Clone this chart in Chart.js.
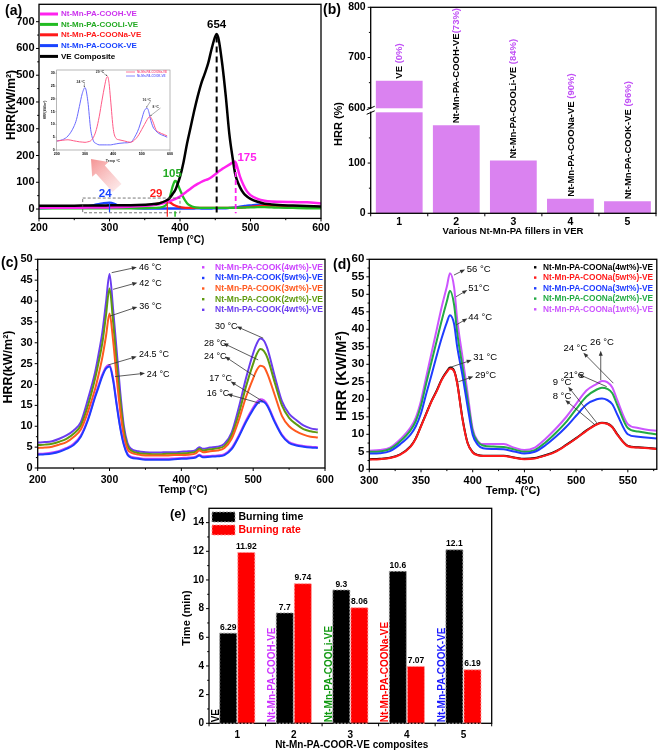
<!DOCTYPE html>
<html><head><meta charset="utf-8">
<script src="https://cdn.jsdelivr.net/npm/chart.js@4.4.1/dist/chart.umd.min.js"></script>
<style>
html,body{margin:0;padding:0;background:#fff;}
body{width:660px;height:752px;position:relative;overflow:hidden;}
canvas{position:absolute;display:block;}
</style></head><body>
<canvas id="cA" width="330" height="250" style="left:0;top:0"></canvas>
<canvas id="cB" width="340" height="250" style="left:320px;top:0"></canvas>
<canvas id="cC" width="340" height="250" style="left:0;top:250px"></canvas>
<canvas id="cD" width="330" height="250" style="left:330px;top:250px"></canvas>
<canvas id="cE" width="400" height="252" style="left:130px;top:500px"></canvas>
<canvas id="cI" width="140" height="104" style="left:38px;top:62px"></canvas>
<script>
// ================= DATA =================
// (a) HRR curves (kW/m2) vs temperature (°C)
const TEMP_A = [200,220,240,260,280,290,300,310,320,340,360,370,380,385,390,393,395,400,405,410,415,420,425,430,435,440,445,450,452,455,460,465,470,475,478,480,485,490,495,500,510,520,530,540,560,580,600];
const HRR_A_VE    = [12,12,12,13,13,13,14,14,14,15,18,21,31,40,58,70,82,120,175,245,305,365,420,468,505,545,600,645,654,632,540,420,280,185,135,115,82,60,47,38,27,20,17,15,13,11,9];
const HRR_A_COOH  = [5,5,5,5,6,6,6,7,8,10,14,18,25,29,34,37,40,47,56,66,76,86,94,101,107,112,120,130,134,141,150,158,166,174,178,168,122,90,66,52,38,31,28,27,26,25,21];
const HRR_A_COOLI = [3,3,3,3,3,3,3,3,3,3,4,5,14,40,88,105,102,72,42,22,12,7,5,4,4,4,4,4,4,4,4,4,4,4,4,4,5,5,6,6,7,7,6,5,4,3,3];
const HRR_A_COONA = [4,4,5,5,6,6,6,7,8,11,16,21,28,26,17,13,11,7,5,4,4,4,4,4,4,4,4,4,4,4,4,4,4,4,4,4,5,6,7,8,11,13,12,9,6,5,5];
const HRR_A_COOK  = [3,4,5,8,16,21,24,16,7,3,2,2,2,2,2,2,2,2,2,2,2,2,3,2,2,2,2,3,3,3,3,3,4,5,6,7,9,11,13,14,16,15,11,8,6,5,5];
const A_X_TICKS = [200,300,400,500,600];
const A_Y_TICKS = [0,100,200,300,400,500,600,700];
const A_NAMES = ['Nt-Mn-PA-COOH-VE','Nt-Mn-PA-COOLi-VE','Nt-Mn-PA-COONa-VE','Nt-Mn-PA-COOK-VE','VE Composite'];
const A_PEAK_TEXT = ['654','175','105','29','24'];

// (a) inset
const TEMP_IN = [200,220,240,260,270,280,290,300,310,320,330,340,350,360,370,375,380,385,390,400,410,420,440,460,480,490,500,510,520,525,530,540,550,560,580,590];
const INSET_COOK  = [3.5,4,5.5,9,12,17,22,24.4,19,8,3.5,2.5,2,2,2,2,2,2,2,2.2,2.4,2.6,2.8,3,6,8.5,12,15.5,16.3,15,12.5,9,7.5,6.5,5.5,5];
const INSET_COONA = [3.5,3.8,4,3.6,3.4,3.2,3.1,3,3.2,3.6,5,8,13,19.5,25.5,28,28.7,26,20,8,4.5,4,3.5,3,4.5,6,8,10,12,12.8,13,11,8,7,6,5.5];
const I_X_TICKS = [200,300,400,500,600];
const I_Y_TICKS = [0,5,10,15,20,25,30];

// (b) peak HRR of each composite
const B_CATS = ['1','2','3','4','5'];
const B_PEAK_HRR = [654,175,105,29,24];
const B_NAMES = ['VE','Nt-Mn-PA-COOH-VE','Nt-Mn-PA-COOLi-VE','Nt-Mn-PA-COONa-VE','Nt-Mn-PA-COOK-VE'];
const B_PCT = [' (0%)','(73%)',' (84%)',' (90%)',' (96%)'];
const B_Y_TICKS = [0,100,600,700,800];

// (c) COOK loading series
const TEMP_C = [200,210,220,230,240,250,260,270,280,285,290,295,300,305,310,315,320,325,330,340,350,360,370,380,390,400,410,420,425,430,440,450,460,470,480,490,500,505,510,515,520,530,540,550,560,570,580,590];
const C_COOK_4A = [3.4,3.5,3.7,4.1,4.8,5.8,7.8,11.8,17.4,20.0,22.4,24.2,24.7,21.5,15.4,9.8,5.7,3.4,2.7,2.4,2.2,2.2,2.2,2.2,2.3,2.4,2.5,2.7,3.2,2.8,2.9,3.0,3.3,4.8,7.8,11.4,14.5,15.8,16.5,16.2,15.1,11.3,8.0,6.2,5.6,5.3,5.1,5.0];
const C_COOK_5  = [3.2,3.3,3.5,3.9,4.6,5.5,7.5,11.5,17.0,19.5,22.0,23.8,24.3,21.0,15.0,9.5,5.5,3.2,2.5,2.2,2.0,2.0,2.0,2.0,2.1,2.2,2.3,2.5,3.0,2.6,2.7,2.8,3.1,4.5,7.5,11.0,14.0,15.3,16.0,15.8,14.8,11.0,7.8,6.0,5.4,5.1,4.9,4.8];
const C_COOK_3  = [4.8,4.9,5.1,5.6,6.2,7.4,9.2,13.5,19.0,22.5,26.5,31.5,37.0,30.5,21.5,13.5,7.5,4.5,3.7,3.2,3.0,3.0,3.0,3.0,3.1,3.1,3.2,3.5,4.2,3.8,4.0,4.2,4.8,7.0,11.5,17.0,21.5,23.5,24.5,24.2,22.5,17.5,12.5,10.0,8.8,8.0,7.5,7.3];
const C_COOK_2  = [5.5,5.6,5.8,6.3,7.0,8.2,10.2,15.0,21.5,25.5,30.0,36.5,43.0,35.0,25.0,16.0,9.0,5.3,4.2,3.6,3.4,3.3,3.3,3.4,3.4,3.5,3.6,3.9,4.6,4.2,4.5,4.7,5.3,7.8,13.0,19.5,25.0,27.3,28.5,28.0,26.3,20.5,15.0,12.0,10.5,9.3,8.8,8.5];
const C_COOK_4B = [6.1,6.2,6.4,7.0,7.8,9.0,11.0,16.5,23.0,27.5,32.5,39.5,46.5,38.0,28.0,18.0,10.0,6.0,4.6,4.0,3.8,3.7,3.7,3.8,3.8,3.9,4.0,4.3,5.0,4.6,4.9,5.1,5.8,8.5,14.5,21.5,27.5,29.8,31.0,30.5,28.5,22.0,16.0,13.0,11.5,10.2,9.5,9.2];
const C_NAMES = ['Nt-Mn-PA-COOK(4wt%)-VE','Nt-Mn-PA-COOK(5wt%)-VE','Nt-Mn-PA-COOK(3wt%)-VE','Nt-Mn-PA-COOK(2wt%)-VE','Nt-Mn-PA-COOK(4wt%)-VE'];
const C_X_TICKS = [200,300,400,500,600];
const C_Y_TICKS = [0,5,10,15,20,25,30,35,40,45,50];

// (d) COONa loading series
const TEMP_D = [300,310,320,330,340,345,350,355,360,365,370,375,378,382,385,390,395,400,405,410,420,430,440,450,460,470,480,490,500,510,520,525,530,535,540,550,560,570,578];
const D_COONA_4 = [2.9,3.0,3.3,4.3,6.6,8.9,12.4,15.9,19.4,22.4,25.7,28.0,29.1,28.2,24.7,14.7,7.6,4.9,4.1,3.9,3.9,3.9,3.4,3.0,3.2,4.0,5.1,6.9,8.9,11.1,12.9,13.3,13.1,12.1,9.9,6.7,6.3,6.1,5.9];
const D_COONA_5 = [2.8,2.9,3.2,4.2,6.5,8.8,12.3,15.8,19.3,22.2,25.5,27.8,28.8,28.0,24.5,14.5,7.5,4.8,4.0,3.8,3.8,3.8,3.3,2.9,3.1,3.9,5.0,6.8,8.8,11.0,12.8,13.2,13.0,12.0,9.8,6.6,6.2,6.0,5.8];
const D_COONA_3 = [4.5,4.6,5.2,7.2,10.0,12.3,16.0,21.5,26.8,32.3,37.5,42.0,44.0,41.5,35.0,27.0,18.0,9.8,7.0,6.0,5.8,5.7,5.1,4.5,5.0,6.8,9.2,12.0,15.3,18.5,20.0,20.2,19.8,18.6,15.5,10.0,9.3,9.0,8.8];
const D_COONA_2 = [5.0,5.1,5.8,8.0,11.2,13.8,18.2,24.5,30.5,36.5,42.5,48.0,51.0,47.0,39.0,29.5,20.0,10.8,7.8,6.8,6.5,6.4,5.7,5.0,5.5,7.6,10.3,13.4,17.2,20.8,22.8,23.3,23.0,21.7,18.2,11.8,10.8,10.3,10.0];
const D_COONA_1 = [5.3,5.5,6.2,8.6,12.0,14.8,19.6,26.3,33.0,39.7,46.4,52.2,56.0,52.0,42.8,32.3,21.9,11.5,8.1,7.2,7.2,7.2,6.2,5.5,6.2,8.6,11.5,14.8,18.7,22.5,24.4,25.2,24.9,23.4,19.6,12.9,11.8,11.2,11.0];
const D_NAMES = ['Nt-Mn-PA-COONa(4wt%)-VE','Nt-Mn-PA-COONa(5wt%)-VE','Nt-Mn-PA-COONa(3wt%)-VE','Nt-Mn-PA-COONa(2wt%)-VE','Nt-Mn-PA-COONa(1wt%)-VE'];
const D_X_TICKS = [300,350,400,450,500,550];
const D_Y_TICKS = [0,5,10,15,20,25,30,35,40,45,50,55,60];

// (e) burning time / rate
const E_CATS = ['1','2','3','4','5'];
const E_BURN_TIME = [6.29,7.7,9.3,10.6,12.1];
const E_BURN_RATE = [11.92,9.74,8.06,3.97,3.73];
const E_TIME_TEXT = ['6.29','7.7','9.3','10.6','12.1'];
const E_RATE_TEXT = ['11.92','9.74','8.06','7.07','6.19'];
const E_NAMES = ['VE','Nt-Mn-PA-COOH-VE','Nt-Mn-PA-COOLi-VE','Nt-Mn-PA-COONa-VE','Nt-Mn-PA-COOK-VE'];
const E_Y_TICKS = [0,2,4,6,8,10,12,14];

// ================= HELPERS =================
const FONT = '"Liberation Sans", Arial, Helvetica, sans-serif';
Chart.defaults.font.family = FONT;
Chart.defaults.color = '#000';
Chart.defaults.animation = false;
Chart.defaults.events = [];
Chart.defaults.plugins.legend.display = false;
Chart.defaults.plugins.tooltip.enabled = false;

const F = (sz, w) => (w || 'bold') + ' ' + sz + 'px ' + FONT;
const pts = (xs, ys) => xs.map((x, i) => ({x: x, y: ys[i]}));
const mids = arr => arr.slice(1).map((v, i) => (v + arr[i]) / 2);
function T(ctx, s, x, y, o) {
  o = o || {};
  ctx.save(); ctx.font = o.font || F(10); ctx.fillStyle = o.color || '#000';
  ctx.textAlign = o.align || 'left'; ctx.textBaseline = o.base || 'middle';
  ctx.translate(x, y); if (o.rot) ctx.rotate(o.rot);
  ctx.fillText(s, 0, 0); ctx.restore();
}
function seg(ctx, x1, y1, x2, y2) { ctx.beginPath(); ctx.moveTo(x1, y1); ctx.lineTo(x2, y2); ctx.stroke(); }
function arrow(ctx, x1, y1, x2, y2, o) {
  o = o || {}; const hl = o.hl || 5, hw = o.hw || 2;
  ctx.save(); ctx.strokeStyle = ctx.fillStyle = o.color || '#333'; ctx.lineWidth = o.lw || 0.8; ctx.setLineDash([]);
  const a = Math.atan2(y2 - y1, x2 - x1);
  seg(ctx, x1, y1, x2 - hl * 0.8 * Math.cos(a), y2 - hl * 0.8 * Math.sin(a));
  ctx.translate(x2, y2); ctx.rotate(a);
  ctx.beginPath(); ctx.moveTo(0, 0); ctx.lineTo(-hl, hw); ctx.lineTo(-hl, -hw); ctx.closePath(); ctx.fill();
  ctx.restore();
}
function lay(cw, p) { return {padding: {left: 0, top: p.t, right: cw - p.r, bottom: 0}, autoPadding: false}; }
function zeroPad(s) { s.paddingLeft = 0; s.paddingRight = 0; s.paddingTop = 0; s.paddingBottom = 0; }
function linAxis(pos, min, max, vals, ch, p, tf) {
  return {
    type: 'linear', position: pos, min: min, max: max,
    grid: {display: false, drawTicks: false}, border: {display: false},
    afterBuildTicks: s => { s.ticks = vals.map(v => ({value: tf.map ? tf.map(v) : v})); },
    afterFit: s => { if (pos === 'bottom') s.height = ch - p.b; else s.width = p.l; zeroPad(s); },
    ticks: {font: {size: tf.size, weight: 'bold'}, padding: tf.pad, maxRotation: 0, minRotation: 0, autoSkip: false,
      callback: tf.cb || (v => String(v))}
  };
}
function catAxis(ch, p, tf) {
  return {
    type: 'category', offset: true,
    grid: {display: false, drawTicks: false}, border: {display: false},
    afterFit: s => { s.height = ch - p.b; zeroPad(s); },
    ticks: {font: {size: tf.size, weight: 'bold'}, padding: tf.pad, maxRotation: 0, minRotation: 0, autoSkip: false}
  };
}
function frame(o) {
  return {id: 'frame', afterDraw(c) {
    const ctx = c.ctx, a = c.chartArea, X = c.scales.x, Y = c.scales.y;
    ctx.save();
    ctx.strokeStyle = o.color || '#000'; ctx.lineWidth = o.lw || 1.3; ctx.setLineDash([]);
    ctx.strokeRect(a.left, a.top, a.right - a.left, a.bottom - a.top);
    ctx.lineWidth = o.tw || 1; ctx.beginPath();
    const tl = o.tl || 3, ml = o.ml || 1.8;
    const xs = (vals, len) => vals.forEach(v => { const q = X.getPixelForValue(v); ctx.moveTo(q, a.bottom); ctx.lineTo(q, a.bottom + len); });
    const ys = (vals, len) => vals.forEach(v => { const q = Y.getPixelForValue(v); ctx.moveTo(a.left, q); ctx.lineTo(a.left - len, q); });
    xs(o.xt || [], tl); xs(o.xm || [], ml); ys(o.yt || [], tl); ys(o.ym || [], ml);
    ctx.stroke();
    if (o.after) o.after(c, ctx);
    ctx.restore();
  }};
}
function ln(label, xs, ys, color, w) {
  return {label: label, data: pts(xs, ys), borderColor: color, backgroundColor: color, borderWidth: w,
    pointRadius: 0, fill: false, cubicInterpolationMode: 'monotone'};
}

// ================= (a) =================
const COL_A = {cooh: '#ff22ee', cooli: '#22bb22', coona: '#ff1a1a', cook: '#1a44ff', ve: '#000000'};
const A_TEXT_COL = ['#cc33ee', '#22aa22', '#ff1a1a', '#1a44ff', '#000000'];
const pA = {l: 39, t: 4.3, r: 321, b: 218.4};
new Chart(document.getElementById('cA'), {
  type: 'line',
  data: {datasets: [
    ln(A_NAMES[4], TEMP_A, HRR_A_VE, COL_A.ve, 2.5),
    ln(A_NAMES[0], TEMP_A, HRR_A_COOH, COL_A.cooh, 2.5),
    ln(A_NAMES[1], TEMP_A, HRR_A_COOLI, COL_A.cooli, 2.3),
    ln(A_NAMES[2], TEMP_A, HRR_A_COONA, COL_A.coona, 2.3),
    ln(A_NAMES[3], TEMP_A, HRR_A_COOK, COL_A.cook, 2.3)
  ]},
  options: {responsive: false, devicePixelRatio: 1, layout: lay(330, pA),
    scales: {
      x: linAxis('bottom', 200, 600, A_X_TICKS, 250, pA, {size: 10.5, pad: 3}),
      y: linAxis('left', -35, 765, A_Y_TICKS, 250, pA, {size: 11, pad: 4.5})
    }},
  plugins: [frame({xt: A_X_TICKS, xm: mids(A_X_TICKS), yt: A_Y_TICKS, ym: mids(A_Y_TICKS), after(c, ctx) {
    const X = v => c.scales.x.getPixelForValue(v), Y = v => c.scales.y.getPixelForValue(v);
    // dashed zoom box
    ctx.save(); ctx.setLineDash([3, 2]); ctx.strokeStyle = '#555'; ctx.lineWidth = 0.8;
    ctx.strokeRect(X(262), Y(41), X(400) - X(262), Y(-14) - Y(41)); ctx.restore();
    // drop lines at peaks
    const drops = [
      {x: 452, y1: 645, y2: -16, c: COL_A.ve, w: 2, d: [6, 4]},
      {x: 479, y1: 168, y2: -16, c: COL_A.cooh, w: 1.8, d: [5, 3]},
      {x: 393, y1: -8, y2: -29, c: COL_A.cooli, w: 1.5, d: []},
      {x: 382, y1: 27, y2: -29, c: COL_A.coona, w: 1.2, d: []},
      {x: 300, y1: 22, y2: -12, c: COL_A.cook, w: 1.2, d: []}
    ];
    drops.forEach(d => { ctx.save(); ctx.setLineDash(d.d); ctx.strokeStyle = d.c; ctx.lineWidth = d.w; seg(ctx, X(d.x), Y(d.y1), X(d.x), Y(d.y2)); ctx.restore(); });
    // peak values
    const pk = [[452, 688, '#000'], [495, 193, COL_A.cooh], [389, 133, '#22aa22'], [366, 58, COL_A.coona], [294, 58, COL_A.cook]];
    pk.forEach((q, i) => T(ctx, A_PEAK_TEXT[i], X(q[0]), Y(q[1]), {font: F(11.5), color: q[2], align: 'center'}));
    // legend
    const lcol = [COL_A.cooh, COL_A.cooli, COL_A.coona, COL_A.cook, COL_A.ve];
    const ly = [14, 24.4, 34.8, 45.6, 56.4];
    A_NAMES.forEach((n, i) => {
      ctx.save(); ctx.strokeStyle = lcol[i]; ctx.lineWidth = 3; seg(ctx, 40, ly[i], 58, ly[i]); ctx.restore();
      T(ctx, n, 61, ly[i], {font: F(8), color: A_TEXT_COL[i]});
    });
    // big pink arrow pointing to inset
    ctx.save();
    const tx = 91, ty = 159, sx = 117, sy = 188;
    const ang = Math.atan2(ty - sy, tx - sx), L = Math.hypot(tx - sx, ty - sy);
    ctx.translate(tx, ty); ctx.rotate(ang);
    const g = ctx.createLinearGradient(-L, 0, 0, 0);
    g.addColorStop(0, 'rgba(245,150,150,0.25)'); g.addColorStop(1, 'rgba(240,110,110,0.75)');
    ctx.fillStyle = g; ctx.beginPath();
    ctx.moveTo(0, 0); ctx.lineTo(-14, 11); ctx.lineTo(-14, 6); ctx.lineTo(-L, 6); ctx.lineTo(-L, -6); ctx.lineTo(-14, -6); ctx.lineTo(-14, -11);
    ctx.closePath(); ctx.fill(); ctx.restore();
    // titles
    T(ctx, '(a)', 5, 11, {font: F(14)});
    T(ctx, 'Temp (°C)', 181, 240, {font: F(10), align: 'center'});
    T(ctx, 'HRR(kW/m²)', 12, 105, {font: F(12), align: 'center', rot: -Math.PI / 2});
  }})]
});

// ================= inset =================
const pI = {l: 18.7, t: 8, r: 132, b: 88};
new Chart(document.getElementById('cI'), {
  type: 'line',
  data: {datasets: [
    ln('Nt-Mn-PA-COONa-VE', TEMP_IN, INSET_COONA, '#ff5a86', 1),
    ln('Nt-Mn-PA-COOK-VE', TEMP_IN, INSET_COOK, '#6a6aff', 1)
  ]},
  options: {responsive: false, devicePixelRatio: 1, layout: lay(140, pI),
    scales: {
      x: linAxis('bottom', 200, 600, I_X_TICKS, 104, pI, {size: 3.6, pad: 1.5}),
      y: linAxis('left', 0, 31.3, I_Y_TICKS, 104, pI, {size: 3.6, pad: 2})
    }},
  plugins: [frame({color: '#888', lw: 0.6, tw: 0.5, tl: 1.5, xt: I_X_TICKS, yt: I_Y_TICKS, after(c, ctx) {
    const X = v => c.scales.x.getPixelForValue(v), Y = v => c.scales.y.getPixelForValue(v);
    const notes = [['24 °C', 270, 26.5, 297, 24.5], ['29 °C', 338, 30.3, 379, 29], ['16 °C', 503, 19.5, 516, 16.5], ['8 °C', 538, 16.8, 530, 13.3]];
    notes.forEach(n => { T(ctx, n[0], X(n[1]), Y(n[2]), {font: F(3.4), color: '#333'}); arrow(ctx, X(n[1]) + 8, Y(n[2]) + 1, X(n[3]), Y(n[4]), {lw: 0.4, hl: 1.5, hw: 0.7}); });
    ctx.save(); ctx.lineWidth = 0.8;
    ctx.strokeStyle = '#ff5a86'; seg(ctx, 88, 10, 97, 10);
    ctx.strokeStyle = '#6a6aff'; seg(ctx, 88, 14, 97, 14); ctx.restore();
    T(ctx, 'Nt-Mn-PA-COONa-VE', 99, 10, {font: F(3), color: '#ff5a86'});
    T(ctx, 'Nt-Mn-PA-COOK-VE', 99, 14, {font: F(3), color: '#6a6aff'});
    T(ctx, 'Temp °C', 75, 98.5, {font: F(3.6), align: 'center', color: '#333'});
    T(ctx, 'HRR(kW/m²)', 7.5, 48, {font: F(3.2), align: 'center', rot: -Math.PI / 2, color: '#333'});
  }})]
});

// ================= (b) =================
const B_GAP_LO = 200, B_GAP_HI = 600, B_GAP = 10;
const brk = v => v > B_GAP_LO ? v - (B_GAP_HI - B_GAP_LO) + B_GAP : v;
const unbrk = v => v > B_GAP_LO ? v + (B_GAP_HI - B_GAP_LO) - B_GAP : v;
const pB = {l: 50.7, t: 7.3, r: 336, b: 213.3};
new Chart(document.getElementById('cB'), {
  type: 'bar',
  data: {labels: B_CATS, datasets: [{label: 'HRR', data: B_PEAK_HRR.map(brk), backgroundColor: '#da82f0',
    borderWidth: 0, categoryPercentage: 0.82, barPercentage: 1.0}]},
  options: {responsive: false, devicePixelRatio: 1, layout: lay(340, pB),
    scales: {
      x: catAxis(250, pB, {size: 10.5, pad: 3}),
      y: linAxis('left', 0, brk(800) , B_Y_TICKS, 250, pB, {size: 10.5, pad: 5, map: brk, cb: v => String(Math.round(unbrk(v)))})
    }},
  plugins: [frame({xt: [-0.5, 0.5, 1.5, 2.5, 3.5, 4.5], yt: B_Y_TICKS.map(brk), ym: [50, 150, 650, 750].map(brk), after(c, ctx) {
    const a = c.chartArea, Y = v => c.scales.y.getPixelForValue(v);
    const yLo = Y(brk(B_GAP_LO)), yHi = Y(brk(B_GAP_HI));
    const meta = c.getDatasetMeta(0);
    meta.data.forEach((b, i) => {
      if (B_PEAK_HRR[i] > B_GAP_LO) { ctx.fillStyle = '#fff'; ctx.fillRect(b.x - b.width / 2 - 1, yHi + 0.5, b.width + 2, yLo - yHi - 1); }
    });
    ctx.fillStyle = '#fff'; ctx.fillRect(a.left - 1.5, yHi + 1.2, 3, yLo - yHi - 2.4);
    ctx.strokeStyle = '#000'; ctx.lineWidth = 1;
    seg(ctx, a.left - 4, yLo + 1.5, a.left + 4, yLo - 2); seg(ctx, a.left - 4, yHi + 2, a.left + 4, yHi - 1.5);
    // rotated bar labels
    meta.data.forEach((b, i) => {
      ctx.save(); ctx.translate(b.x + 0.5, b.y - 2); ctx.rotate(-Math.PI / 2);
      ctx.font = F(9.5); ctx.textBaseline = 'middle'; ctx.textAlign = 'left';
      ctx.fillStyle = '#000'; ctx.fillText(B_NAMES[i], 0, 0);
      const w = ctx.measureText(B_NAMES[i]).width;
      ctx.fillStyle = '#c050f5'; ctx.fillText(B_PCT[i], w, 0);
      ctx.restore();
    });
    T(ctx, '(b)', 3, 10, {font: F(14)});
    T(ctx, 'Various Nt-Mn-PA fillers in VER', 193, 231.5, {font: F(9.5), align: 'center'});
    T(ctx, 'HRR (%)', 19, 124, {font: F(11), align: 'center', rot: -Math.PI / 2});
  }})]
});

// ================= (c) =================
const COL_C = ['#cc44ff', '#1f3cff', '#ff5a1f', '#5f9a10', '#6a3cf0'];
const pC = {l: 37.7, t: 9.3, r: 325, b: 218};
new Chart(document.getElementById('cC'), {
  type: 'line',
  data: {datasets: [
    ln(C_NAMES[1], TEMP_C, C_COOK_5, COL_C[1], 2),
    ln(C_NAMES[0], TEMP_C, C_COOK_4A, COL_C[0], 2),
    ln(C_NAMES[2], TEMP_C, C_COOK_3, COL_C[2], 2),
    ln(C_NAMES[3], TEMP_C, C_COOK_2, COL_C[3], 2),
    ln(C_NAMES[4], TEMP_C, C_COOK_4B, COL_C[4], 2)
  ]},
  options: {responsive: false, devicePixelRatio: 1, layout: lay(340, pC),
    scales: {
      x: linAxis('bottom', 200, 600, C_X_TICKS, 250, pC, {size: 10.5, pad: 6}),
      y: linAxis('left', 0, 50, C_Y_TICKS, 250, pC, {size: 11, pad: 5})
    }},
  plugins: [frame({xt: C_X_TICKS, xm: mids(C_X_TICKS), yt: C_Y_TICKS, ym: mids(C_Y_TICKS), after(c, ctx) {
    const X = v => c.scales.x.getPixelForValue(v), Y = v => c.scales.y.getPixelForValue(v);
    const notes = [
      ['46 °C', 341, 48, 303, 46.8, 338, 48.1], ['42 °C', 341.4, 44.2, 305, 42.8, 338.7, 44.4],
      ['36 °C', 341.4, 38.8, 300.7, 36.4, 338.7, 38.6], ['24.5 °C', 341, 27.3, 298.3, 24.7, 337.8, 26.7],
      ['24 °C', 352, 22.5, 307.6, 21.9, 349.4, 22.7], ['30 °C', 446.8, 34, 514, 31.1, 477, 33.9],
      ['28 °C', 431.5, 29.9, 507, 25.9, 458.4, 29.9], ['24 °C', 431.5, 26.8, 502.5, 21.9, 460.8, 26.7],
      ['17 °C', 439, 21.5, 514, 15.9, 468.7, 20.7], ['16 °C', 435.3, 17.9, 509.5, 15.5, 464, 17.7]
    ];
    notes.forEach(n => { arrow(ctx, X(n[3]), Y(n[4]), X(n[5]), Y(n[6])); T(ctx, n[0], X(n[1]), Y(n[2]), {font: F(9, 'normal')}); });
    const ly = [17.3, 28, 38.5, 49.2, 59.8];
    C_NAMES.forEach((n, i) => { ctx.fillStyle = COL_C[i]; ctx.fillRect(202, ly[i] - 1.2, 2.4, 2.4); T(ctx, n, 215, ly[i], {font: F(8.5), color: COL_C[i]}); });
    T(ctx, '(c)', 1, 13, {font: F(14)});
    T(ctx, 'Temp (°C)', 183, 240, {font: F(10.5), align: 'center'});
    T(ctx, 'HRR(kW/m²)', 9, 117, {font: F(12.5), align: 'center', rot: -Math.PI / 2});
  }})]
});

// ================= (d) =================
const COL_D = ['#000000', '#ff1a1a', '#1f3cff', '#22aa44', '#cc55ff'];
const pD = {l: 39.3, t: 9.3, r: 326.8, b: 219.3};
new Chart(document.getElementById('cD'), {
  type: 'line',
  data: {datasets: [
    ln(D_NAMES[1], TEMP_D, D_COONA_5, COL_D[1], 2),
    ln(D_NAMES[0], TEMP_D, D_COONA_4, COL_D[0], 2),
    ln(D_NAMES[2], TEMP_D, D_COONA_3, COL_D[2], 2),
    ln(D_NAMES[3], TEMP_D, D_COONA_2, COL_D[3], 2),
    ln(D_NAMES[4], TEMP_D, D_COONA_1, COL_D[4], 2)
  ]},
  options: {responsive: false, devicePixelRatio: 1, layout: lay(330, pD),
    scales: {
      x: linAxis('bottom', 300, 578, D_X_TICKS, 250, pD, {size: 11, pad: 5.5}),
      y: linAxis('left', 0, 60, D_Y_TICKS, 250, pD, {size: 11.5, pad: 5})
    }},
  plugins: [frame({xt: D_X_TICKS, xm: mids(D_X_TICKS).concat([575]), yt: D_Y_TICKS, ym: mids(D_Y_TICKS), after(c, ctx) {
    const X = v => c.scales.x.getPixelForValue(v), Y = v => c.scales.y.getPixelForValue(v);
    const notes = [
      ['56 °C', 394.2, 57.1, 381.9, 55.5, 392.6, 57.1], ['51°C', 395.7, 51.7, 383.8, 49.3, 394.8, 51.2],
      ['44 °C', 395.7, 43.4, 383.8, 41.2, 394.8, 43.1], ['31 °C', 400.6, 32, 378, 29.1, 399, 31.2],
      ['29°C', 402.2, 26.7, 386, 25, 400.6, 26.5], ['26 °C', 513.5, 36.4, 523.8, 25.5, 523.8, 33.9],
      ['24 °C', 487.7, 34.6, 536, 24.6, 507, 33.3], ['21°C', 487.7, 26.7, 529.6, 23.6, 502.1, 27.2],
      ['9 °C', 477.3, 24.7, 519.9, 13.3, 492.4, 23.6], ['8 °C', 477.3, 20.7, 518.3, 12.7, 489.5, 19.8]
    ];
    notes.forEach(n => { arrow(ctx, X(n[3]), Y(n[4]), X(n[5]), Y(n[6])); T(ctx, n[0], X(n[1]), Y(n[2]), {font: F(9.5, 'normal')}); });
    const ly = [17.3, 27.6, 38.3, 48.6, 59.3];
    D_NAMES.forEach((n, i) => { ctx.fillStyle = COL_D[i]; ctx.fillRect(204, ly[i] - 1.2, 2.4, 2.4); T(ctx, n, 213, ly[i], {font: F(8.3), color: COL_D[i]}); });
    T(ctx, '(d)', 3, 15, {font: F(14)});
    T(ctx, 'Temp. (°C)', 183, 241, {font: F(11), align: 'center'});
    T(ctx, 'HRR (KW/M²)', 12, 126, {font: F(14.5), align: 'center', rot: -Math.PI / 2});
  }})]
});

// ================= (e) =================
const E_NAME_COL = ['#000000', '#cc33ff', '#119911', '#ff0000', '#1a1aff'];
const pE = {l: 79, t: 8.3, r: 361.7, b: 223.3};
new Chart(document.getElementById('cE'), {
  type: 'bar',
  data: {labels: E_CATS, datasets: [
    {label: 'Burning time', data: E_BURN_TIME, backgroundColor: '#000000', borderWidth: 0, categoryPercentage: 0.64, barPercentage: 0.94},
    {label: 'Burning rate', data: E_BURN_RATE, backgroundColor: '#ff0000', borderWidth: 0, categoryPercentage: 0.64, barPercentage: 0.94}
  ]},
  options: {responsive: false, devicePixelRatio: 1, layout: lay(400, pE),
    scales: {
      x: catAxis(252, pE, {size: 10, pad: 5.5}),
      y: linAxis('left', 0, 15, E_Y_TICKS, 252, pE, {size: 10, pad: 5})
    }},
  plugins: [frame({xt: [-0.5, 0.5, 1.5, 2.5, 3.5, 4.5], yt: E_Y_TICKS, ym: [1, 3, 5, 7, 9, 11, 13], after(c, ctx) {
    const X = c.scales.x, a = c.chartArea;
    const txt = [E_TIME_TEXT, E_RATE_TEXT], bcol = ['#a0a0a0', '#ff9a9a'];
    [0, 1].forEach(d => {
      c.getDatasetMeta(d).data.forEach((b, i) => {
        ctx.save(); ctx.setLineDash([2, 1.5]); ctx.strokeStyle = bcol[d]; ctx.lineWidth = 1;
        ctx.strokeRect(b.x - b.width / 2, b.y, b.width, b.base - b.y); ctx.restore();
        T(ctx, txt[d][i], b.x, b.y - 1.5, {font: F(8.5), align: 'center', base: 'bottom'});
      });
    });
    E_NAMES.forEach((n, i) => T(ctx, n, X.getPixelForValue(i) - 21.5, a.bottom - 1, {font: F(10), color: E_NAME_COL[i], rot: -Math.PI / 2}));
    // legend
    ctx.save(); ctx.setLineDash([2, 1.5]); ctx.lineWidth = 1;
    ctx.fillStyle = '#000'; ctx.fillRect(82, 12, 23, 10); ctx.strokeStyle = '#a0a0a0'; ctx.strokeRect(82, 12, 23, 10);
    ctx.fillStyle = '#ff0000'; ctx.fillRect(82, 25, 23, 10); ctx.strokeStyle = '#ff9a9a'; ctx.strokeRect(82, 25, 23, 10);
    ctx.restore();
    T(ctx, 'Burning time', 108.5, 17, {font: F(10.5)});
    T(ctx, 'Burning rate', 108.5, 30, {font: F(10.5), color: '#ff0000'});
    T(ctx, '(e)', 40, 14, {font: F(13)});
    T(ctx, 'Time (min)', 57, 118, {font: F(11), align: 'center', rot: -Math.PI / 2});
    T(ctx, 'Nt-Mn-PA-COOR-VE composites', 221.7, 245, {font: F(10), align: 'center'});
  }})]
});
</script>
</body></html>
